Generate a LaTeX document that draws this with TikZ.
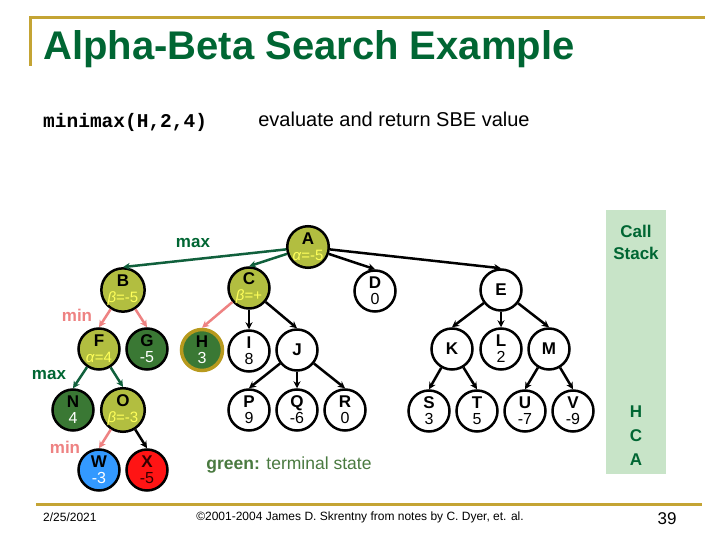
\documentclass[tikz,border=0pt]{standalone}
\usepackage{fontspec}
\setmainfont{Liberation Sans}
\newfontfamily\monofont{Liberation Mono}
\usetikzlibrary{arrows.meta}
\definecolor{titlegreen}{RGB}{0,102,51}
\definecolor{gold}{RGB}{196,164,52}
\definecolor{olive}{RGB}{178,190,64}
\definecolor{dgreen}{RGB}{58,120,52}
\definecolor{egreen}{RGB}{16,96,60}
\definecolor{epink}{RGB}{238,130,130}
\definecolor{lyellow}{RGB}{255,255,90}
\definecolor{stackbg}{RGB}{200,228,200}
\definecolor{wblue}{RGB}{51,153,255}
\definecolor{xred}{RGB}{255,20,20}
\definecolor{ringgold}{RGB}{184,154,30}
\definecolor{termgreen}{RGB}{74,122,64}
\newcommand\lv[2]{\textbf{#1}\\[1pt]\fontsize{16}{15}\selectfont\mdseries #2}
\newcommand\gl[2]{\textbf{#1}\\[1pt]\fontsize{15}{15}\selectfont\mdseries\color{lyellow}#2}
\begin{document}
\begin{tikzpicture}[x=1pt,y=-1pt,
  tn/.style={circle,draw=black,line width=2.5pt,minimum size=41pt,inner sep=0pt,
    fill=white,align=center,font=\fontsize{17}{15}\selectfont\bfseries},
  olivenode/.style={tn,fill=olive},
  termnode/.style={tn,fill=dgreen},
  eg/.style={line width=2.5pt,-{Stealth[length=7pt,width=7pt]}},
  greenedge/.style={eg,draw=egreen},
  pinkedge/.style={eg,draw=epink},
  blackedge/.style={eg,draw=black},
  lbl/.style={font=\fontsize{17}{18}\selectfont\bfseries,inner sep=0pt},
  goldline/.style={draw=gold,line width=3pt}
]
\useasboundingbox (0,0) rectangle (720,540);
\fill[white] (0,0) rectangle (720,540);

% header
\draw[goldline] (29,18) -- (705,18);
\draw[goldline] (30,18) -- (30,66);
\node[anchor=base west,inner sep=0pt,font=\fontsize{40}{40}\selectfont\bfseries,text=titlegreen] (title) at (43,60) {Alpha-Beta Search Example};
\node[anchor=west,inner sep=0pt,font=\monofont\fontsize{19.5}{20}\selectfont\bfseries] (call) at (43,122) {minimax(H,2,4)};
\node[inner sep=0pt,font=\fontsize{20}{20}\selectfont] (eval) at (394,119) {evaluate and return SBE value};

% call stack
\node[fill=stackbg,minimum width=60pt,minimum height=264pt,inner sep=0pt,anchor=north west] (stack) at (606,210) {};
\node[lbl,text=titlegreen] (cs1) at (636,231) {Call};
\node[lbl,text=titlegreen] (cs2) at (636,253) {Stack};
\node[lbl,text=titlegreen] (sH) at (636,412) {H};
\node[lbl,text=titlegreen] (sC) at (636,436) {C};
\node[lbl,text=titlegreen] (sA) at (636,460) {A};

% tree nodes
\node[olivenode] (A) at (308,247) {\gl{A}{\textit{α}=-5}};
\node[olivenode] (B) at (123,290) {\gl{B}{\textit{β}=-5}};
\node[olivenode] (C) at (249,288) {\gl{C}{\textit{β}=+}};
\node[tn] (D) at (375,291) {\lv{D}{0}};
\node[tn] (E) at (501,290) {E};
\node[olivenode] (F) at (99,349) {\gl{F}{\textit{α}=4}};
\node[termnode] (G) at (147,349) {\lv{G}{\color{white}-5}};
\node[termnode,draw=ringgold,line width=3.5pt] (H) at (202,350) {\lv{H}{\color{white}3}};
\node[tn] (I) at (249,351) {\lv{I}{8}};
\node[tn] (J) at (297,350) {J};
\node[tn] (K) at (452,349) {K};
\node[tn] (L) at (501,349) {\lv{L}{2}};
\node[tn] (M) at (549,349) {M};
\node[termnode] (N) at (73,410) {\lv{N}{\color{white}4}};
\node[olivenode] (O) at (123,410) {\gl{O}{\textit{β}=-3}};
\node[tn] (P) at (249,410) {\lv{P}{9}};
\node[tn] (Q) at (297,410) {\lv{Q}{-6}};
\node[tn] (R) at (345,410) {\lv{R}{0}};
\node[tn] (S) at (429,411) {\lv{S}{3}};
\node[tn] (T) at (477,411) {\lv{T}{5}};
\node[tn] (U) at (525,411) {\lv{U}{-7}};
\node[tn] (V) at (573,411) {\lv{V}{-9}};
\node[tn,fill=wblue] (W) at (99,470) {\lv{W}{\color{white}-3}};
\node[tn,fill=xred,text=black!80!red] (X) at (147,470) {\lv{X}{-5}};

% edges
\draw[greenedge] (A) -- (B.north);
\draw[greenedge] (A) -- (C.north);
\draw[blackedge] (A) -- (D.north);
\draw[blackedge] (A) -- (E.north);
\draw[pinkedge] (B) -- (F.north);
\draw[pinkedge] (B) -- (G.north);
\draw[pinkedge] (C) -- (H.north);
\draw[blackedge] (C) -- (I.north);
\draw[blackedge] (C) -- (J.north);
\draw[blackedge] (E) -- (K.north);
\draw[blackedge] (E) -- (L.north);
\draw[blackedge] (E) -- (M.north);
\draw[greenedge] (F) -- (N.north);
\draw[greenedge] (F) -- (O.north);
\draw[blackedge] (J) -- (P.north);
\draw[blackedge] (J) -- (Q.north);
\draw[blackedge] (J) -- (R.north);
\draw[blackedge] (K) -- (S.north);
\draw[blackedge] (K) -- (T.north);
\draw[blackedge] (M) -- (U.north);
\draw[blackedge] (M) -- (V.north);
\draw[pinkedge] (O) -- (W.north);
\draw[blackedge] (O) -- (X.north);

% level labels
\node[lbl,text=titlegreen] (lmax1) at (193,243) {max};
\node[lbl,text=epink] (lmin1) at (77,315) {min};
\node[lbl,text=titlegreen] (lmax2) at (49,375) {max};
\node[lbl,text=epink] (lmin2) at (65,447) {min};

\node[inner sep=0pt,font=\fontsize{17.5}{18}\selectfont,text=termgreen] (legend) at (289,465) {{\bfseries green:} terminal state};

% footer
\draw[goldline] (36,504) -- (702,504);
\node[anchor=west,inner sep=0pt,font=\fontsize{12}{12}\selectfont] (date) at (43,517) {2/25/2021};
\node[inner sep=0pt,font=\fontsize{12}{12}\selectfont] (copy) at (360,517) {©2001-2004 James D. Skrentny from notes by C. Dyer, et. al.};
\node[inner sep=0pt,font=\fontsize{17}{17}\selectfont] (page) at (667,519) {39};
\end{tikzpicture}
\end{document}
